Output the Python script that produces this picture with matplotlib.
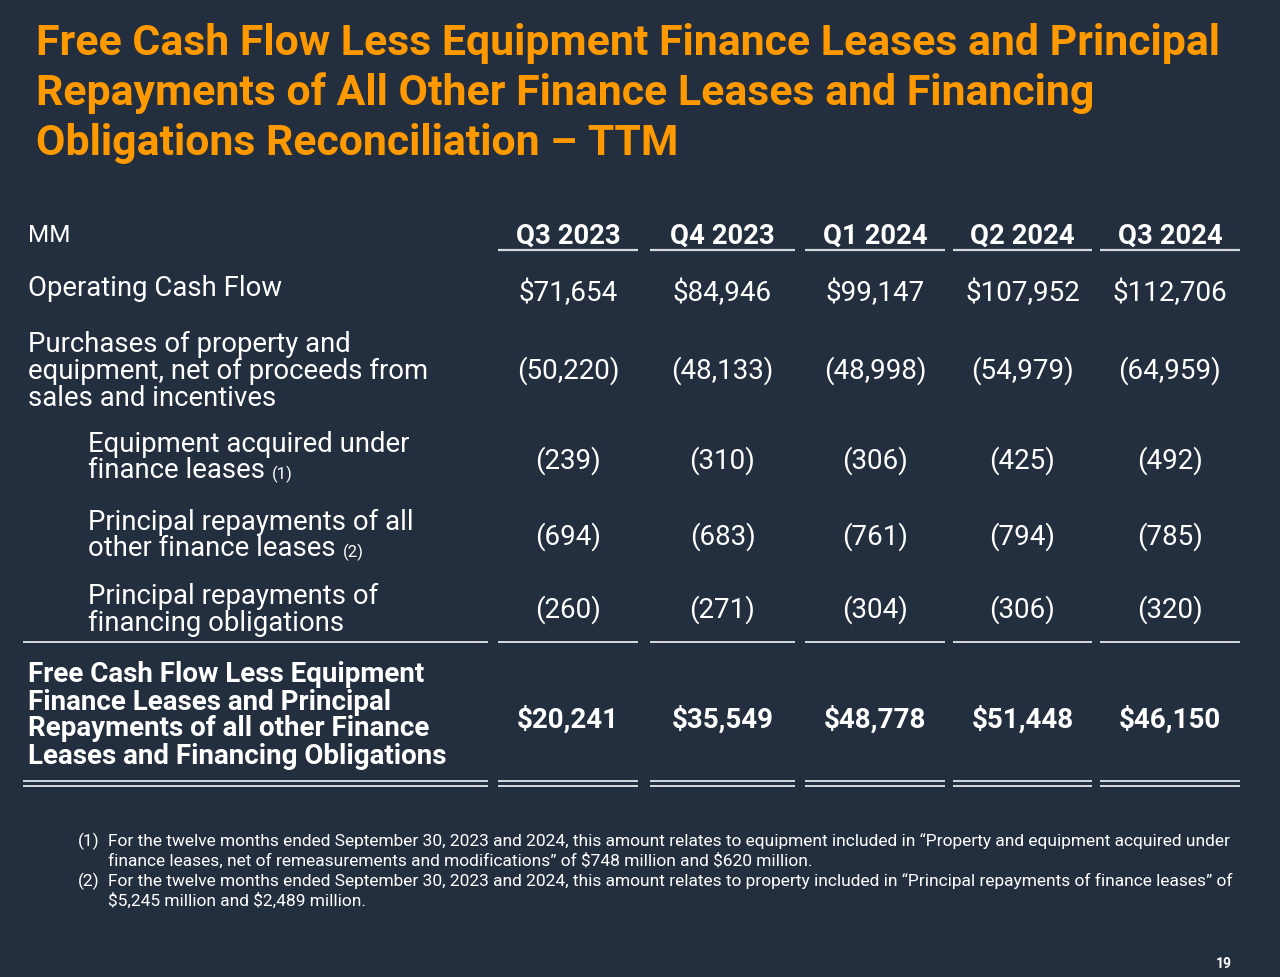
"""
TTM free cash flow reconciliation slide, redrawn as a matplotlib table.
Writes out.png (1280x978).
"""
import matplotlib.pyplot as plt

BG = "#232F3E"
ORANGE = "#FF9900"
WHITE = "#FFFFFF"
RULE = "#D5D9DE"
FONT = "Roboto"

title = ["Free Cash Flow Less Equipment Finance Leases and Principal",
         "Repayments of All Other Finance Leases and Financing",
         "Obligations Reconciliation \u2013 TTM"]

quarters = ["Q3 2023", "Q4 2023", "Q1 2024", "Q2 2024", "Q3 2024"]

row_labels = ["Operating Cash Flow",
              "Purchases of property and\nequipment, net of proceeds from\nsales and incentives",
              "Equipment acquired under\nfinance leases",
              "Principal repayments of all\nother finance leases",
              "Principal repayments of\nfinancing obligations",
              "Free Cash Flow Less Equipment\nFinance Leases and Principal\n"
              "Repayments of all other Finance\nLeases and Financing Obligations"]
row_notes = ["", "", "(1)", "(2)", "", ""]
row_indent = [False, False, True, True, True, False]
row_bold = [False, False, False, False, False, True]

operating_cf = [71654, 84946, 99147, 107952, 112706]
capex = [-50220, -48133, -48998, -54979, -64959]
equip_leases = [-239, -310, -306, -425, -492]
other_leases = [-694, -683, -761, -794, -785]
financing_obl = [-260, -271, -304, -306, -320]
fcf_less = [20241, 35549, 48778, 51448, 46150]
series = [operating_cf, capex, equip_leases, other_leases, financing_obl, fcf_less]

footnotes = [
    ("(1)", "For the twelve months ended September 30, 2023 and 2024, this amount relates to equipment included in \u201cProperty and equipment acquired under\n"
            "finance leases, net of remeasurements and modifications\u201d of $748 million and $620 million."),
    ("(2)", "For the twelve months ended September 30, 2023 and 2024, this amount relates to property included in \u201cPrincipal repayments of finance leases\u201d of\n"
            "$5,245 million and $2,489 million."),
]

# layout (pixels, y from top)
segs = [(498, 638), (650, 795), (805, 945), (953, 1092), (1100, 1240)]
label_seg = (23, 488)
label_top = [288, 344, 444, 522, 596, 675]
value_y = [293, 371, 461, 537, 610, 720]
line_step = 27


def fmt(v, dollar):
    if v < 0:
        return f"({-v:,})"
    return f"${v:,}" if dollar else f"{v:,}"


fig = plt.figure(figsize=(12.8, 9.78), dpi=100, facecolor=BG)
ax = fig.add_axes([0, 0, 1, 1])
ax.set_xlim(0, 1280); ax.set_ylim(978, 0); ax.axis("off")
ax.set_facecolor(BG)


def txt(x, y, s, size, bold=False, color=WHITE, ha="left"):
    return ax.text(x, y, s, color=color, fontsize=size, family=FONT,
                   fontweight="bold" if bold else "normal",
                   va="center", ha=ha, parse_math=False)


for i, line in enumerate(title):
    txt(36, 43 + 50 * i, line, 30.8, bold=True, color=ORANGE)

# header
txt(28, 236, "MM", 17.5)
for (a, b), q in zip(segs, quarters):
    txt((a + b) / 2, 236, q, 19.8, bold=True, ha="center")
    ax.plot([a, b], [251, 251], color=RULE, lw=1.6, solid_capstyle="butt")

fig.canvas.draw()
rend = fig.canvas.get_renderer()
inv = ax.transData.inverted()

# rows
for r, lab in enumerate(row_labels):
    x0 = 88 if row_indent[r] else 28
    lines = lab.split("\n")
    size = 20 if row_bold[r] else 19.8
    for k, ln in enumerate(lines):
        t = txt(x0, label_top[r] + line_step * k, ln, size, bold=row_bold[r])
        if row_notes[r] and k == len(lines) - 1:
            bb = t.get_window_extent(rend)
            xr = inv.transform((bb.x1, bb.y0))[0]
            txt(xr + 7, label_top[r] + line_step * k + 3, row_notes[r], 12)
    dollar = r in (0, 5)
    for (a, b), v in zip(segs, series[r]):
        txt((a + b) / 2, value_y[r], fmt(v, dollar), 20, bold=row_bold[r], ha="center")

# single rule under details, double rule under total
for a, b in [label_seg] + segs:
    ax.plot([a, b], [643, 643], color=RULE, lw=1.4, solid_capstyle="butt")
    ax.plot([a, b], [782, 782], color=RULE, lw=1.4, solid_capstyle="butt")
    ax.plot([a, b], [786.5, 786.5], color=RULE, lw=1.4, solid_capstyle="butt")

# footnotes
fy = 841
for num, body in footnotes:
    txt(78, fy, num, 12.5)
    for ln in body.split("\n"):
        txt(108, fy, ln, 12.5)
        fy += 20

txt(1224, 964, "19", 10, bold=True, ha="center")

fig.savefig("out.png", dpi=100, facecolor=BG)
